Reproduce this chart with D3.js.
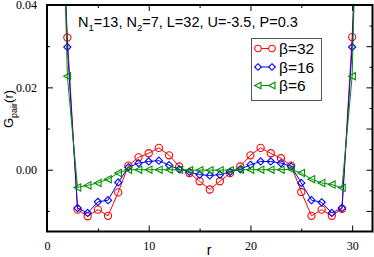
<!DOCTYPE html>
<html>
<head>
<meta charset="utf-8">
<script src="https://cdn.jsdelivr.net/npm/d3@7"></script>
<style>
  body { margin: 0; background: #fff; }
  svg { display: block; }
</style>
</head>
<body>
<script>
var width = 374,
    height = 257;

var margin = {left: 47, top: 5, right: 1.5, bottom: 25.5};

// data
var rValues = [1, 2, 3, 4, 5, 6, 7, 8, 9, 10, 11, 12, 13, 14, 15, 16,
               17, 18, 19, 20, 21, 22, 23, 24, 25, 26, 27, 28, 29, 30, 31];
var beta32 = [0.090, 0.0321, -0.0097, -0.0113, -0.0097, -0.0112, -0.0055, 0.0010, 0.0030, 0.0040, 0.0053, 0.0035,
              0.0008, -0.0008, -0.0028, -0.0048, -0.0028, -0.0008, 0.0008, 0.0035, 0.0053, 0.0040, 0.0028, 0.0010,
              -0.0054, -0.0112, -0.0097, -0.0112, -0.0095, 0.0322, 0.090];
var beta16 = [0.100, 0.0298, -0.0093, -0.0105, -0.0078, -0.0074, -0.0031, 0.0006, 0.0016, 0.0020, 0.0022, 0.0011,
              0.0001, -0.0005, -0.0012, -0.0014, -0.0012, -0.0005, 0.0001, 0.0012, 0.0020, 0.0020, 0.0016, 0.0008,
              -0.0032, -0.0074, -0.0079, -0.0105, -0.0093, 0.0298, 0.100];
var beta6 = [0.120, 0.0227, -0.0043, -0.0038, -0.0032, -0.0023, -0.0008, 0.0000, 0.0000, 0.0000, 0.0000, 0.0000,
             0.0000, -0.0001, -0.0001, -0.0001, -0.0001, -0.0001, 0.0000, 0.0000, 0.0000, 0.0000, 0.0000, 0.0001,
             -0.0008, -0.0023, -0.0032, -0.0036, -0.0044, 0.0227, 0.120];
var seriesNames = ["\u03b2=32", "\u03b2=16", "\u03b2=6"];
var xTicks = [0, 10, 20, 30];
var yTicks = [0.00, 0.02, 0.04];

var series = [
  {name: seriesNames[0], values: beta32, color: "#ff0000", shape: "circle"},
  {name: seriesNames[1], values: beta16, color: "#0000ff", shape: "diamond"},
  {name: seriesNames[2], values: beta6, color: "#009000", shape: "triangle"}
];

var x = d3.scaleLinear().domain([0, 32]).range([margin.left, width - margin.right]);
var y = d3.scaleLinear().domain([-0.015, 0.04]).range([height - margin.bottom, margin.top]);

var svg = d3.select("body").append("svg")
    .attr("width", width)
    .attr("height", height);

svg.append("defs").append("clipPath").attr("id", "clip")
  .append("rect")
    .attr("x", x(0)).attr("y", y(0.04))
    .attr("width", x(32) - x(0)).attr("height", y(-0.015) - y(0.04));

function marker(shape, s) {
  if (shape == "circle") return d3.symbol().type(d3.symbolCircle).size(Math.PI * s * s)();
  if (shape == "diamond") return "M0," + (-s) + "L" + s + ",0L0," + s + "L" + (-s) + ",0Z";
  // triangle pointing left
  return "M" + (-s) + ",0L" + (s * 0.9) + "," + (-s) + "L" + (s * 0.9) + "," + s + "Z";
}

var line = d3.line()
  .x(function(d, i) { return x(rValues[i]); })
  .y(function(d) { return y(d); });

var plot = svg.append("g").attr("clip-path", "url(#clip)");

series.forEach(function(s) {
  plot.append("path")
      .attr("d", line(s.values))
      .attr("fill", "none")
      .attr("stroke", s.color)
      .attr("stroke-width", 1);
  plot.selectAll(null)
      .data(s.values)
      .enter().append("path")
      .attr("transform", function(d, i) { return "translate(" + x(rValues[i]) + "," + y(d) + ")"; })
      .attr("d", marker(s.shape, 3.6))
      .attr("fill", "none")
      .attr("stroke", s.color)
      .attr("stroke-width", 1.1);
});

// axes: ticks inside, mirrored on all sides
var bottom = svg.append("g").attr("transform", "translate(0," + y(-0.015) + ")")
    .call(d3.axisBottom(x).tickValues(xTicks).tickSize(-6).tickPadding(10).tickFormat(d3.format("d")));
var bottomMinor = svg.append("g").attr("transform", "translate(0," + y(-0.015) + ")")
    .call(d3.axisBottom(x).tickValues([5, 15, 25]).tickSize(-3).tickFormat(""));
var top = svg.append("g").attr("transform", "translate(0," + y(0.04) + ")")
    .call(d3.axisTop(x).tickValues(xTicks).tickSize(-6).tickFormat(""));
var topMinor = svg.append("g").attr("transform", "translate(0," + y(0.04) + ")")
    .call(d3.axisTop(x).tickValues([5, 15, 25]).tickSize(-3).tickFormat(""));
var left = svg.append("g").attr("transform", "translate(" + x(0) + ",0)")
    .call(d3.axisLeft(y).tickValues(yTicks).tickSize(-6).tickPadding(10).tickFormat(d3.format(".2f")));
var leftMinor = svg.append("g").attr("transform", "translate(" + x(0) + ",0)")
    .call(d3.axisLeft(y).tickValues([-0.01, 0.01, 0.03]).tickSize(-3).tickFormat(""));
var right = svg.append("g").attr("transform", "translate(" + x(32) + ",0)")
    .call(d3.axisRight(y).tickValues([-0.01, 0.0, 0.01, 0.02, 0.03]).tickSize(-6).tickFormat(""));
var rightMinor = svg.append("g").attr("transform", "translate(" + x(32) + ",0)")
    .call(d3.axisRight(y).tickValues([-0.005, 0.005, 0.015, 0.025, 0.035]).tickSize(-3).tickFormat(""));

svg.selectAll(".domain").remove();
svg.selectAll(".tick line").attr("stroke", "#000").attr("stroke-width", 1);
svg.selectAll(".tick text")
    .attr("font-family", "'Liberation Serif', 'Times New Roman', serif")
    .attr("font-size", 12)
    .attr("fill", "#000");

svg.append("rect")
    .attr("x", x(0)).attr("y", y(0.04))
    .attr("width", x(32) - x(0)).attr("height", y(-0.015) - y(0.04))
    .attr("fill", "none")
    .attr("stroke", "#000")
    .attr("stroke-width", 2);

// labels
var sans = "'Liberation Sans', Arial, sans-serif";
svg.append("text")
    .attr("x", 209).attr("y", 254.5)
    .attr("text-anchor", "middle")
    .attr("font-family", sans).attr("font-size", 14)
    .text("r");

var ylab = svg.append("text")
    .attr("transform", "translate(13,109) rotate(-90)")
    .attr("text-anchor", "middle")
    .attr("font-family", sans).attr("font-size", 13);
ylab.append("tspan").text("G");
ylab.append("tspan").attr("font-size", 9).attr("dy", 4).text("pair");
ylab.append("tspan").attr("dy", -4).text("(r)");

var title = svg.append("text")
    .attr("x", 78).attr("y", 27)
    .attr("font-family", sans).attr("font-size", 14.5);
title.append("tspan").text("N");
title.append("tspan").attr("font-size", 9.5).attr("dy", 4).text("1");
title.append("tspan").attr("dy", -4).text("=13, N");
title.append("tspan").attr("font-size", 9.5).attr("dy", 4).text("2");
title.append("tspan").attr("dy", -4).text("=7, L=32, U=-3.5, P=0.3");

// legend
var legend = svg.append("g");
legend.append("rect")
    .attr("x", 251.5).attr("y", 38.5)
    .attr("width", 70).attr("height", 62)
    .attr("fill", "#fff")
    .attr("stroke", "#555")
    .attr("stroke-width", 1);

series.forEach(function(s, i) {
  var ly = 48.5 + i * 18.5;
  legend.append("line")
      .attr("x1", 258).attr("x2", 272)
      .attr("y1", ly).attr("y2", ly)
      .attr("stroke", s.color).attr("stroke-width", 1);
  [258, 272].forEach(function(mx) {
    legend.append("path")
        .attr("transform", "translate(" + mx + "," + ly + ")")
        .attr("d", marker(s.shape, 3.3))
        .attr("fill", "#fff")
        .attr("stroke", s.color)
        .attr("stroke-width", 1.1);
  });
  legend.append("text")
      .attr("x", 279).attr("y", ly + 5.5)
      .attr("font-family", sans).attr("font-size", 15.5)
      .text(s.name);
});
</script>
</body>
</html>
